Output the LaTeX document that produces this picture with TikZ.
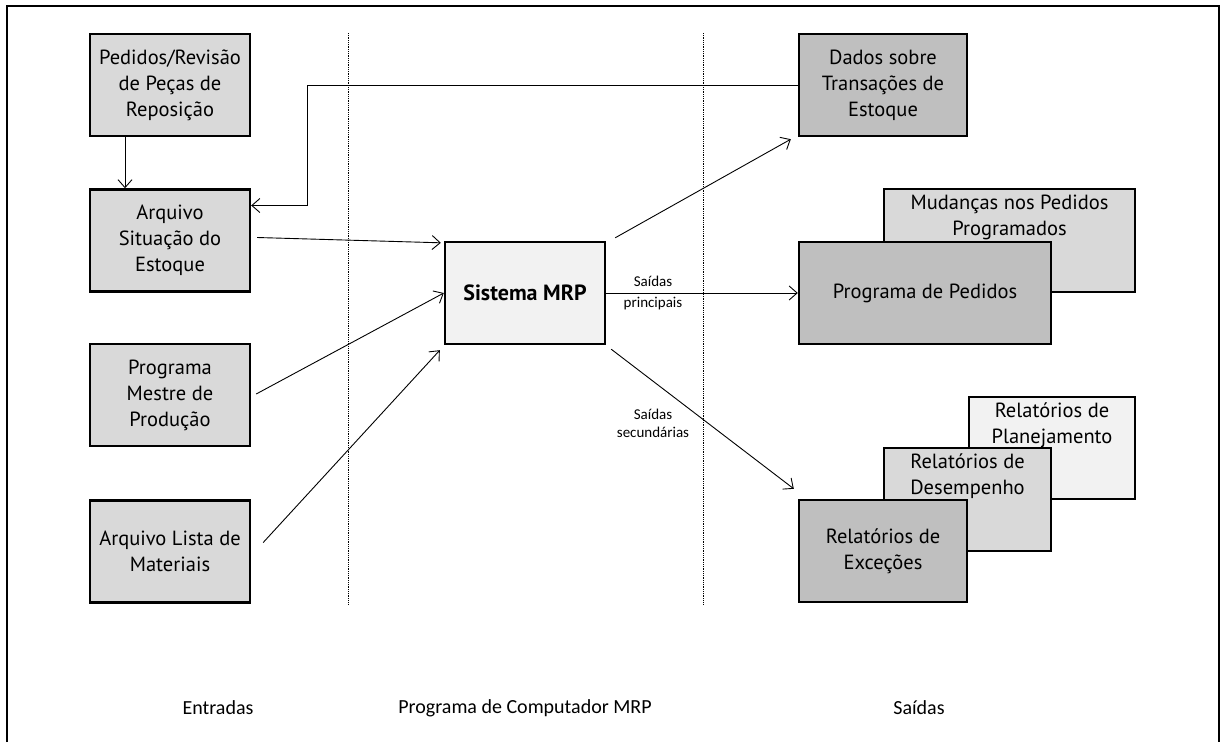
\documentclass[tikz,border=0pt]{standalone}
\usepackage{fontspec}
\setmainfont{PT Sans}
\newfontfamily\calfont{Carlito}
\usepackage{tikz}
\usetikzlibrary{positioning}
\usetikzlibrary{arrows.meta}
\definecolor{cinzaent}{HTML}{D9D9D9}
\definecolor{cinzaclaro}{HTML}{F2F2F2}
\definecolor{cinzaesc}{HTML}{BFBFBF}
\tikzset{
  caixa/.style={draw, line width=2.4pt, align=center, inner sep=2pt, font=\fontsize{20.5}{26}\selectfont},
  entrada/.style={caixa, fill=cinzaent, minimum width=160pt, minimum height=102pt},
  saida/.style={caixa, fill=cinzaesc, minimum width=168pt, minimum height=102pt},
  fundo/.style={caixa, fill=#1},
  topo/.style={align=center, inner sep=2pt, font=\fontsize{20.5}{26}\selectfont},
  seta/.style={->, line width=0.9pt},
  rotulo/.style={font=\calfont\fontsize{15}{#1}\selectfont, align=center},
  coluna/.style={font=\calfont\fontsize{20}{24}\selectfont},
  >={Straight Barb[length=8pt,width=14pt]},
}

\begin{document}
\begin{tikzpicture}[x=1pt,y=-1pt]
\useasboundingbox (0,0) rectangle (1222,742);
\draw[line width=2.6pt] (7,742) -- (7,6) -- (1219,6) -- (1219,742);
\draw[densely dotted, line width=0.8pt] (348,33) -- (348,604);
\draw[densely dotted, line width=0.8pt] (703,33) -- (703,604);

% entradas
\node[entrada] (pedidos) at (170,85) {Pedidos/Revisão\\de Peças de\\Reposição};
\node[entrada] (situacao) at (170,240.5) {Arquivo\\Situação do\\Estoque};
\node[entrada] (mestre) at (170,395) {Programa\\Mestre de\\Produção};
\node[entrada] (lista) at (170,551.5) {Arquivo Lista de\\Materiais};

\node[caixa, fill=cinzaclaro, minimum width=160pt, minimum height=102pt,
      font=\fontsize{22}{26}\selectfont\bfseries] (mrp) at (525,293) {Sistema MRP};

% saidas
\node[saida] (dados) at (883,85) {Dados sobre\\Transações de\\Estoque};
\node[fundo=cinzaent, minimum width=251pt, minimum height=103pt] (mudancas) at (1009.5,240.5) {};
\node[topo, below=5pt of mudancas.north] (mudancastxt) {Mudanças nos Pedidos\\Programados};
\node[saida, minimum width=252pt] (programa) at (925,293) {Programa de Pedidos};

\node[fundo=cinzaclaro, minimum width=166pt, minimum height=102pt] (planej) at (1052,448) {};
\node[topo, below=5pt of planej.north] (planejtxt) {Relatórios de\\Planejamento};
\node[fundo=cinzaent, minimum width=167pt, minimum height=103pt] (desemp) at (967.5,499.5) {};
\node[topo, below=5pt of desemp.north] (desemptxt) {Relatórios de\\Desempenho};
\node[saida] (excecoes) at (883,551) {Relatórios de\\Exceções};

\draw[seta] ([xshift=-45pt]pedidos.south) -- ([xshift=-45pt]situacao.north);
\draw[seta] (dados.west) -- ++(-490,0) |- ([yshift=35pt]situacao.east);
\draw[seta] ([xshift=6pt,yshift=3pt]situacao.east) -- ([xshift=-3pt,yshift=-2pt]mrp.north west);
\draw[seta] ([xshift=5pt,yshift=1pt]mestre.east) -- (mrp.west);
\draw[seta] ([xshift=12pt,yshift=9pt]lista.east) -- ([xshift=-4pt,yshift=-5pt]mrp.south west);
\draw[seta] ([xshift=9pt,yshift=3pt]mrp.north east) -- ([xshift=-7pt,yshift=-2pt]dados.south west);
\draw[seta] (mrp.east) -- (programa.west);
\draw[seta] ([xshift=5pt,yshift=-4pt]mrp.south east) -- ([xshift=-4pt,yshift=10pt]excecoes.north west);

\node[rotulo=21] (principais) at (653,292.5) {Saídas\\principais};
\node[rotulo=18] (secundarias) at (653,423) {Saídas\\secundárias};

\node[coluna] (entradas) at (218,708) {Entradas};
\node[coluna] (programacomp) at (525,708) {Programa de Computador MRP};
\node[coluna] (saidas) at (919,708) {Saídas};
\end{tikzpicture}
\end{document}
